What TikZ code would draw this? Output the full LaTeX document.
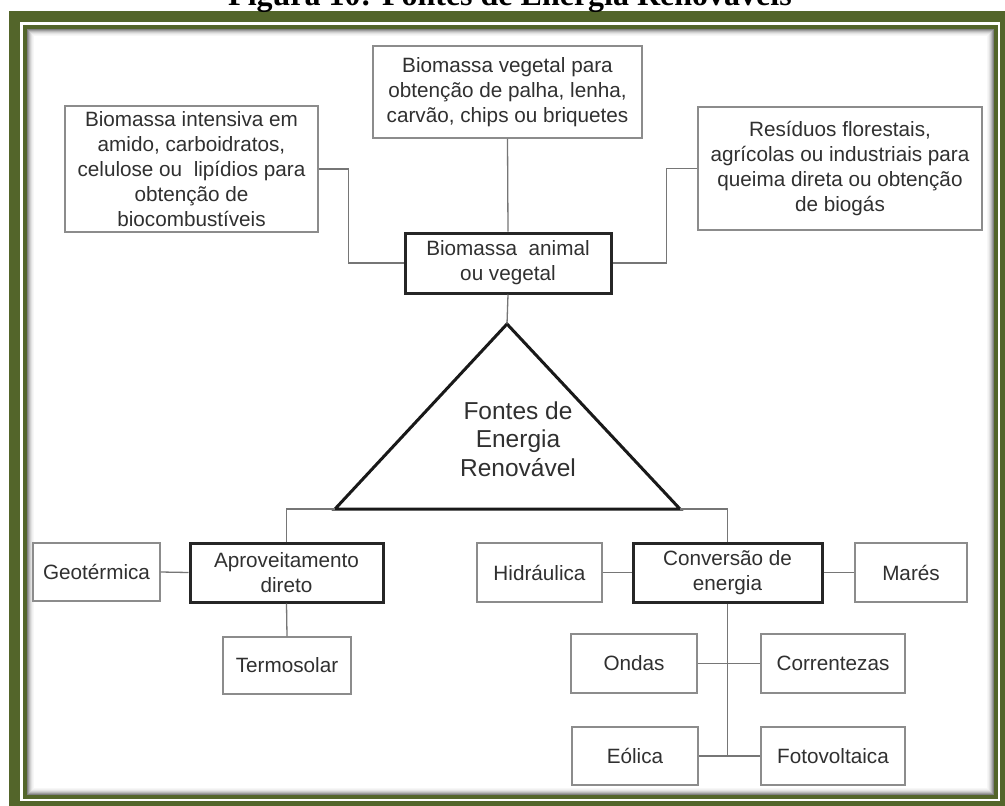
\documentclass[tikz,border=0pt]{standalone}
\usepackage{fontspec}
\setmainfont{Liberation Sans}
\newfontfamily\serifhead{Liberation Serif}
\usetikzlibrary{calc}
\definecolor{framegreen}{HTML}{53652A}
\definecolor{txt}{HTML}{303030}
\definecolor{edge}{HTML}{8C8C8C}
\definecolor{wire}{HTML}{767676}

\begin{document}
\begin{tikzpicture}[x=1pt,y=-1pt,
  thinbox/.style={draw=edge,line width=1.2pt,fill=white,align=center,text=txt,font=\fontsize{20.7}{24.8}\selectfont,inner sep=2pt},
  mainbox/.style={thinbox,draw=black!85,line width=3pt},
  link/.style={draw=wire,line width=1.3pt}
]
\useasboundingbox (0,0) rectangle (1005,806);
\fill[white] (0,0) rectangle (1005,806);

% moldura verde
\fill[framegreen] (9,11) rectangle (1011,812);
\fill[white] (20,22) rectangle (1000,801);
\fill[framegreen] (23,25) rectangle (998,799);
\fill[white] (27,29) rectangle (994,795);
\foreach \d/\s in {0.5/50,1.5/38,2.5/27,3.5/18,4.5/11,5.5/6,6.5/3}
  \draw[black!\s,line width=1pt] (27+\d,29+\d) rectangle (994-\d,795-\d);

\node[font=\serifhead\bfseries\fontsize{32}{36}\selectfont,anchor=base] (title) at (510,5) {Figura 10: Fontes de Energia Renováveis};

% biomassa
\node[thinbox,minimum width=269,minimum height=92] (veg) at (507.5,92) {Biomassa vegetal para\\obtenção de palha, lenha,\\carvão, chips ou briquetes};
\node[thinbox,minimum width=253,minimum height=126] (amido) at (191.5,169) {Biomassa intensiva em\\amido, carboidratos,\\celulose ou\ \ lipídios para\\obtenção de\\biocombustíveis};
\node[thinbox,minimum width=284,minimum height=123] (residuos) at (840,168.5) {Resíduos florestais,\\agrícolas ou industriais para\\queima direta ou obtenção\\de biogás};
\node[mainbox,minimum width=206,minimum height=60] (bio) at (508,263) {Biomassa\ \ animal\\ou vegetal};

% triangulo central
\coordinate (apex) at (507,324);
\coordinate (tl) at (335,509);
\coordinate (tr) at (680,509);
\draw[black!90,line width=3pt,line join=miter] (apex) -- (tl) -- (tr) -- cycle;
\node[align=center,text=txt,font=\fontsize{24.5}{28.5}\selectfont] (fontes) at (518,439) {Fontes de\\Energia\\Renovável};

% aproveitamento direto
\node[mainbox,minimum width=193,minimum height=59] (aprov) at (286.5,572.5) {Aproveitamento\\direto};
\node[thinbox,minimum width=127,minimum height=58] (geo) at (96.5,572) {Geotérmica};
\node[thinbox,minimum width=128,minimum height=57] (termo) at (287,665.5) {Termosolar};

% conversao de energia
\node[mainbox,minimum width=189,minimum height=59] (conv) at (727.5,572.5) {Conversão de\\energia};
\node[thinbox,minimum width=125,minimum height=59] (hidra) at (539.5,572.5) {Hidráulica};
\node[thinbox,minimum width=112,minimum height=59] (mares) at (911,572.5) {Marés};
\node[thinbox,minimum width=126,minimum height=59] (ondas) at (634,663.5) {Ondas};
\node[thinbox,minimum width=144,minimum height=59] (corr) at (833,663.5) {Correntezas};
\node[thinbox,minimum width=126,minimum height=58] (eolica) at (635,756) {Eólica};
\node[thinbox,minimum width=144,minimum height=58] (foto) at (833,756) {Fotovoltaica};

% ligacoes
\draw[link] (veg.south) -- (bio.north);
\draw[link] (amido.east) -| ([xshift=-55pt]bio.west) -- (bio.west);
\draw[link] (residuos.west) -| ([xshift=54pt]bio.east) -- (bio.east);
\draw[link] (bio.south) -- (apex);
\draw[link] (aprov.north) |- (tl);
\draw[link] (conv.north) |- (tr);
\draw[link] (geo.east) -- (aprov.west);
\draw[link] (aprov.south) -- (termo.north);
\draw[link] (hidra.east) -- (conv.west);
\draw[link] (conv.east) -- (mares.west);
\draw[link] (conv.south) -- (conv.south |- eolica.east);
\draw[link] (ondas.east) -- (corr.west);
\draw[link] (eolica.east) -- (foto.west);
\end{tikzpicture}
\end{document}
